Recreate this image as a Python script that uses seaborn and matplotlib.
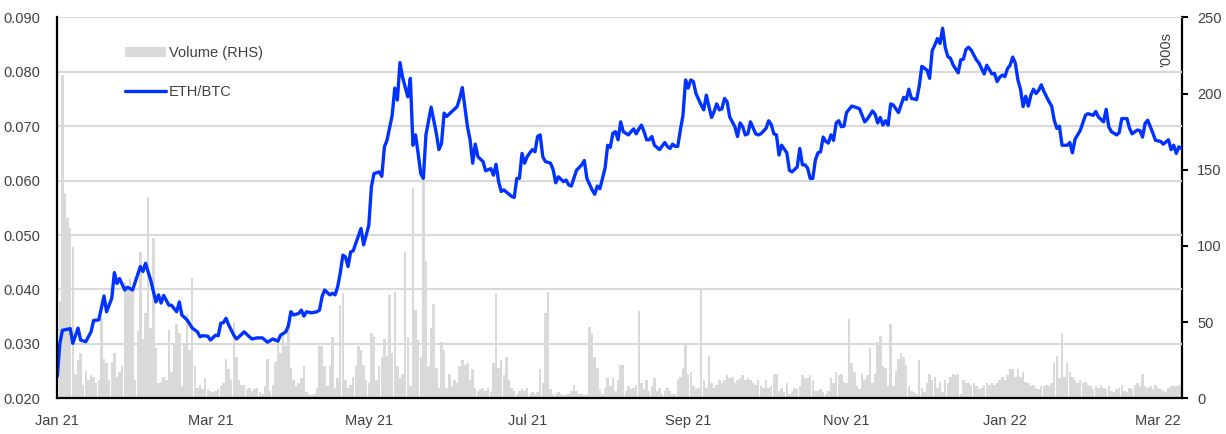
import numpy as np
import pandas as pd
import matplotlib
matplotlib.use('Agg')
import matplotlib.pyplot as plt
import matplotlib.dates as mdates
from matplotlib.patches import Patch
from matplotlib.lines import Line2D
import seaborn as sns

# days counted from 1 Jan 2021
start = pd.Timestamp('2021-01-01')

line_days = [
    0, 1, 2, 4, 5, 6, 8, 9, 11, 13,
    14, 16, 18, 19, 21, 22, 23, 24, 26, 27,
    29, 32, 33, 34, 36, 38, 39, 40, 41, 43,
    44, 46, 47, 48, 50, 52, 54, 55, 56, 58,
    59, 61, 62, 63, 64, 65, 66, 68, 69, 70,
    72, 74, 75, 77, 79, 81, 83, 85, 86, 88,
    89, 90, 91, 93, 94, 95, 96, 98, 100, 101,
    102, 103, 105, 106, 107, 108, 109, 110, 111, 112,
    113, 114, 115, 117, 118, 120, 121, 122, 124, 125,
    126, 127, 129, 130, 131, 132, 133, 134, 135, 136,
    137, 138, 139, 140, 141, 142, 143, 144, 146, 147,
    148, 149, 150, 152, 154, 155, 156, 158, 159, 160,
    161, 162, 164, 165, 167, 168, 169, 170, 171, 172,
    174, 175, 176, 177, 178, 179, 180, 181, 182, 183,
    184, 185, 186, 187, 188, 190, 191, 192, 193, 195,
    196, 197, 198, 200, 202, 203, 204, 206, 207, 208,
    209, 211, 212, 213, 214, 215, 216, 217, 218, 220,
    221, 222, 223, 224, 225, 226, 227, 228, 229, 230,
    232, 234, 235, 236, 237, 238, 239, 240, 241, 242,
    243, 244, 245, 246, 248, 249, 250, 251, 252, 253,
    254, 255, 256, 257, 258, 259, 260, 261, 262, 263,
    264, 265, 266, 267, 269, 270, 271, 273, 274, 275,
    276, 277, 278, 279, 281, 282, 283, 285, 286, 287,
    288, 289, 290, 291, 292, 293, 294, 295, 296, 297,
    298, 299, 300, 301, 302, 303, 304, 306, 308, 309,
    310, 311, 312, 314, 315, 316, 317, 318, 319, 320,
    321, 322, 324, 326, 327, 328, 329, 331, 332, 333,
    335, 336, 337, 338, 339, 340, 341, 342, 343, 344,
    345, 347, 348, 349, 350, 351, 352, 354, 355, 357,
    358, 360, 361, 362, 363, 364, 365, 366, 367, 368,
    369, 370, 371, 372, 373, 374, 375, 376, 377, 378,
    379, 380, 382, 383, 384, 385, 386, 387, 389, 390,
    391, 392, 393, 394, 396, 397, 399, 400, 401, 403,
    404, 405, 406, 408, 409, 410, 412, 413, 414, 416,
    417, 418, 419, 420, 422, 423, 425, 426, 428, 429,
    430, 431, 432, 433,
]

eth_btc = [
    .0240, .0301, .0325, .0327, .0328, .0301, .0329, .0307, .0304, .0322,
    .0343, .0344, .0388, .0359, .0384, .0431, .0411, .0420, .0399, .0404,
    .0399, .0442, .0433, .0448, .0417, .0377, .0390, .0375, .0389, .0371,
    .0371, .0359, .0377, .0353, .0344, .0329, .0322, .0313, .0315, .0314,
    .0307, .0316, .0315, .0338, .0339, .0347, .0335, .0316, .0309, .0313,
    .0322, .0313, .0309, .0311, .0311, .0303, .0309, .0305, .0316, .0322,
    .0333, .0359, .0353, .0356, .0362, .0351, .0359, .0357, .0359, .0362,
    .0387, .0399, .0390, .0393, .0390, .0405, .0430, .0463, .0460, .0442,
    .0469, .0471, .0485, .0512, .0482, .0518, .0589, .0613, .0616, .0608,
    .0662, .0674, .0720, .0770, .0748, .0817, .0790, .0772, .0754, .0788,
    .0665, .0684, .0650, .0613, .0604, .0684, .0710, .0735, .0687, .0657,
    .0668, .0724, .0718, .0727, .0736, .0751, .0771, .0699, .0675, .0632,
    .0667, .0644, .0635, .0618, .0622, .0610, .0630, .0598, .0580, .0583,
    .0575, .0571, .0569, .0604, .0604, .0650, .0632, .0644, .0651, .0657,
    .0653, .0681, .0684, .0644, .0635, .0632, .0620, .0596, .0607, .0598,
    .0601, .0592, .0590, .0619, .0629, .0637, .0604, .0583, .0575, .0590,
    .0585, .0623, .0665, .0661, .0687, .0690, .0675, .0708, .0690, .0684,
    .0690, .0695, .0686, .0695, .0702, .0690, .0675, .0675, .0681, .0665,
    .0657, .0670, .0663, .0659, .0667, .0663, .0663, .0693, .0720, .0785,
    .0770, .0785, .0782, .0760, .0739, .0730, .0757, .0736, .0716, .0727,
    .0741, .0730, .0732, .0751, .0745, .0717, .0708, .0699, .0681, .0706,
    .0699, .0684, .0686, .0708, .0686, .0684, .0686, .0696, .0710, .0703,
    .0686, .0684, .0647, .0665, .0651, .0619, .0616, .0625, .0659, .0629,
    .0629, .0623, .0604, .0604, .0638, .0651, .0653, .0680, .0672, .0669,
    .0684, .0674, .0706, .0710, .0699, .0700, .0725, .0737, .0734, .0732,
    .0720, .0708, .0713, .0728, .0722, .0706, .0716, .0702, .0710, .0702,
    .0741, .0739, .0725, .0753, .0749, .0768, .0751, .0749, .0774, .0810,
    .0803, .0788, .0839, .0849, .0861, .0852, .0880, .0845, .0828, .0825,
    .0813, .0798, .0822, .0823, .0841, .0845, .0840, .0822, .0816, .0796,
    .0812, .0796, .0797, .0782, .0790, .0794, .0791, .0806, .0812, .0827,
    .0816, .0785, .0768, .0736, .0755, .0737, .0757, .0768, .0760, .0766,
    .0776, .0764, .0745, .0737, .0711, .0696, .0700, .0665, .0665, .0670,
    .0651, .0676, .0684, .0692, .0720, .0723, .0720, .0727, .0717, .0708,
    .0731, .0699, .0690, .0684, .0688, .0714, .0714, .0696, .0686, .0693,
    .0692, .0680, .0705, .0711, .0687, .0674, .0672, .0667, .0675, .0657,
    .0665, .0650, .0662, .0659,
]

# daily volume, '000s (one value per day from 1 Jan 2021)
volume = [
    40, 64, 212, 135, 118, 112, 99, 16, 25, 30,
    9, 18, 12, 15, 14, 10, 12, 53, 26, 23,
    12, 24, 30, 14, 17, 21, 76, 74, 79, 72,
    12, 44, 96, 39, 56, 132, 46, 105, 33, 10,
    11, 14, 12, 45, 17, 36, 49, 43, 8, 35,
    55, 32, 79, 21, 7, 9, 6, 13, 6, 5,
    4, 5, 6, 8, 10, 26, 19, 12, 50, 27,
    12, 9, 9, 6, 7, 5, 6, 7, 4, 3,
    8, 26, 5, 9, 24, 36, 30, 43, 34, 50,
    20, 12, 8, 10, 13, 21, 4, 3, 2, 3,
    7, 34, 34, 21, 8, 21, 40, 7, 13, 61,
    69, 12, 7, 9, 14, 21, 34, 32, 22, 12,
    10, 43, 40, 12, 21, 27, 39, 28, 68, 30,
    70, 21, 13, 16, 96, 40, 8, 138, 58, 38,
    27, 143, 90, 21, 46, 62, 20, 7, 37, 32,
    7, 16, 8, 12, 10, 21, 25, 22, 23, 12,
    19, 7, 5, 6, 7, 5, 7, 4, 23, 69,
    20, 25, 15, 27, 12, 7, 5, 3, 5, 6,
    5, 7, 3, 4, 3, 4, 19, 10, 56, 70,
    6, 3, 3, 4, 3, 2, 2, 3, 5, 9,
    5, 3, 3, 2, 3, 47, 43, 27, 20, 6,
    3, 7, 13, 8, 13, 5, 12, 22, 22, 5,
    8, 6, 7, 9, 57, 10, 6, 12, 5, 8,
    13, 5, 7, 3, 5, 7, 5, 3, 3, 12,
    14, 20, 35, 16, 17, 8, 6, 7, 71, 12,
    7, 28, 10, 7, 9, 12, 10, 12, 15, 13,
    14, 10, 12, 13, 15, 12, 13, 12, 10, 9,
    12, 8, 7, 12, 7, 8, 16, 16, 5, 7,
    4, 10, 3, 5, 7, 6, 8, 15, 13, 13,
    15, 12, 5, 5, 6, 4, 3, 5, 13, 10,
    17, 15, 16, 11, 10, 52, 23, 17, 8, 6,
    16, 12, 15, 33, 10, 16, 37, 41, 21, 20,
    8, 49, 8, 18, 26, 30, 27, 22, 8, 5,
    4, 3, 25, 7, 4, 10, 16, 12, 14, 7,
    11, 4, 12, 10, 14, 16, 15, 16, 3, 12,
    10, 10, 9, 10, 8, 6, 7, 9, 10, 9,
    10, 9, 10, 12, 14, 12, 15, 19, 19, 14,
    19, 14, 17, 11, 10, 8, 9, 7, 6, 8,
    8, 9, 8, 10, 23, 28, 13, 43, 14, 23,
    17, 14, 12, 10, 12, 10, 11, 9, 8, 6,
    8, 7, 9, 7, 6, 8, 5, 4, 6, 7,
    9, 5, 4, 7, 6, 9, 10, 8, 16, 8,
    7, 8, 6, 9, 7, 6, 5, 4, 7, 8,
    8, 8, 9, 8,
]

sns.set_style('white')
plt.rcParams['font.family'] = ['Liberation Sans', 'DejaVu Sans']
text_col = '#404040'
blue = '#0033ff'
grey = '#d9d9d9'

line_df = pd.DataFrame({'Date': start + pd.to_timedelta(line_days, unit='D'),
                        'ETH/BTC': eth_btc})
vol_dates = start + pd.to_timedelta(np.arange(len(volume)), unit='D')

fig, ax = plt.subplots(figsize=(12.26, 4.34), dpi=100)
fig.subplots_adjust(left=0.0467, right=0.9641, top=0.960, bottom=0.0823)

# volume bars on the right axis, line on top
ax2 = ax.twinx()
ax2.bar(vol_dates, volume, width=0.95, color=grey, linewidth=0)
ax.set_zorder(ax2.get_zorder() + 1)
ax.patch.set_visible(False)

sns.lineplot(data=line_df, x='Date', y='ETH/BTC', ax=ax, color=blue,
             linewidth=2.4, estimator=None)

ax.set_xlim(start, start + pd.Timedelta(days=433.2))
ax.set_ylim(0.02, 0.09)
ax.set_yticks(np.arange(0.02, 0.0901, 0.01))
ax.yaxis.set_major_formatter(plt.FormatStrFormatter('%.3f'))
ax2.set_ylim(0, 250)
ax2.set_yticks(np.arange(0, 251, 50))

ax.xaxis.set_major_locator(mdates.MonthLocator(bymonth=[1, 3, 5, 7, 9, 11]))
ax.xaxis.set_major_formatter(mdates.DateFormatter('%b %y'))

ax.grid(axis='y', color=grey, linewidth=1.5)
ax.set_xlabel('')
ax.set_ylabel('')

for a in (ax, ax2):
    for s in a.spines.values():
        s.set_visible(False)
ax.spines['left'].set_visible(True)
ax.spines['bottom'].set_visible(True)
ax2.spines['right'].set_visible(True)
for s in (ax.spines['left'], ax.spines['bottom'], ax2.spines['right']):
    s.set_color('black')
    s.set_linewidth(1.6)

ax.tick_params(axis='x', direction='out', length=4, width=1.5, color='black',
               pad=7, labelsize=10.5, labelcolor=text_col)
ax.tick_params(axis='y', length=0, pad=12, labelsize=10.5, labelcolor=text_col)
ax2.tick_params(axis='y', direction='out', length=4, width=1.5, color='black',
                pad=7, labelsize=10.5, labelcolor=text_col)

ax.text(0.9855, 0.961, "'000s", transform=ax.transAxes, rotation=90,
        ha='center', va='top', color=text_col, fontsize=10.5)

handles = [Patch(facecolor=grey, edgecolor='none', label='Volume (RHS)'),
           Line2D([], [], color=blue, linewidth=2.4, label='ETH/BTC')]
ax.legend(handles=handles, loc='upper left', bbox_to_anchor=(0.060, 0.925),
          frameon=False, handlelength=2.8, handletextpad=0.25, labelspacing=1.75,
          borderpad=0, borderaxespad=0, fontsize=10.5, labelcolor=text_col)

plt.savefig('out.png', dpi=100)
